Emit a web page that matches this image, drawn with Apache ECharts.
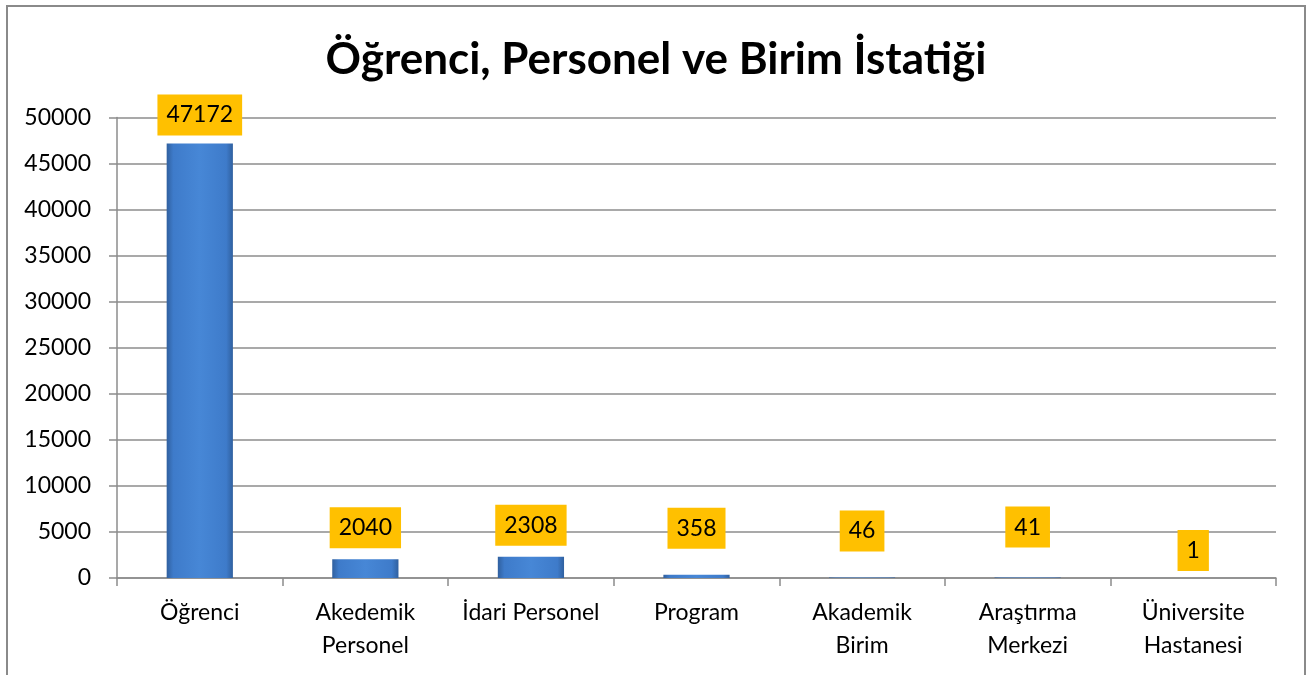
<!DOCTYPE html>
<html>
<head>
<meta charset="utf-8">
<script src="https://cdn.jsdelivr.net/npm/echarts@6/dist/echarts.min.js"></script>
<style>
  html, body { margin: 0; padding: 0; background: #fff; }
  #chart { width: 1312px; height: 675px; }
</style>
</head>
<body>
<div id="chart"></div>
<script>
// veriler
const categories = ['Öğrenci', 'Akedemik\nPersonel', 'İdari Personel', 'Program', 'Akademik\nBirim', 'Araştırma\nMerkezi', 'Üniversite\nHastanesi'];
const values = [47172, 2040, 2308, 358, 46, 41, 1];
const yTicks = [0, 5000, 10000, 15000, 20000, 25000, 30000, 35000, 40000, 45000, 50000];
// etiket kutusu ile çubuk arasındaki boşluk (Excel'deki gibi biraz düzensiz)
const labelGaps = [8, 11, 11, 26, 26, 30, 7];

const FONT = 'Lato, "Open Sans", sans-serif';

const chart = echarts.init(document.getElementById('chart'));

const barColor = new echarts.graphic.LinearGradient(0, 0, 1, 0, [
  { offset: 0, color: '#30609f' },
  { offset: 0.1, color: '#3e7bca' },
  { offset: 0.5, color: '#4787d6' },
  { offset: 0.9, color: '#3e7bca' },
  { offset: 1, color: '#30609f' }
]);

chart.setOption({
  animation: false,
  title: {
    text: 'Öğrenci, Personel ve Birim İstatiği',
    left: 'center',
    top: 33,
    textStyle: { fontFamily: FONT, fontWeight: 'bold', fontSize: 44, color: '#000' }
  },
  graphic: [{
    type: 'rect',
    shape: { x: 7, y: 6, width: 1298, height: 680 },
    style: { fill: 'none', stroke: '#8a8a8a', lineWidth: 2 },
    silent: true
  }],
  grid: { left: 117, right: 36, top: 117.5, bottom: 97 },
  xAxis: {
    type: 'category',
    data: categories,
    axisLine: { lineStyle: { color: '#8c8c8c', width: 1.5 } },
    axisTick: { show: true, length: 8, interval: 0, lineStyle: { color: '#8c8c8c', width: 1.5 } },
    axisLabel: {
      interval: 0, margin: 18, fontFamily: FONT, fontSize: 23, color: '#000', lineHeight: 33
    }
  },
  yAxis: {
    type: 'value',
    min: yTicks[0],
    max: yTicks[yTicks.length - 1],
    interval: 5000,
    axisLine: { show: true, lineStyle: { color: '#8c8c8c', width: 1.5 } },
    axisTick: { show: true, length: 8, lineStyle: { color: '#8c8c8c', width: 1.5 } },
    splitLine: { lineStyle: { color: '#8c8c8c', width: 1.5 } },
    axisLabel: {
      margin: 26, fontFamily: FONT, fontSize: 23, color: '#000',
      formatter: v => String(v)
    }
  },
  series: [{
    type: 'bar',
    barWidth: '40%',
    data: values.map((v, i) => ({
      value: v,
      label: { distance: labelGaps[i] }
    })),
    itemStyle: { color: barColor },
    label: {
      show: true,
      position: 'top',
      fontFamily: FONT,
      fontSize: 23,
      lineHeight: 23,
      color: '#000',
      backgroundColor: '#ffc000',
      padding: [9, 9, 9, 9]
    }
  }]
});
</script>
</body>
</html>
